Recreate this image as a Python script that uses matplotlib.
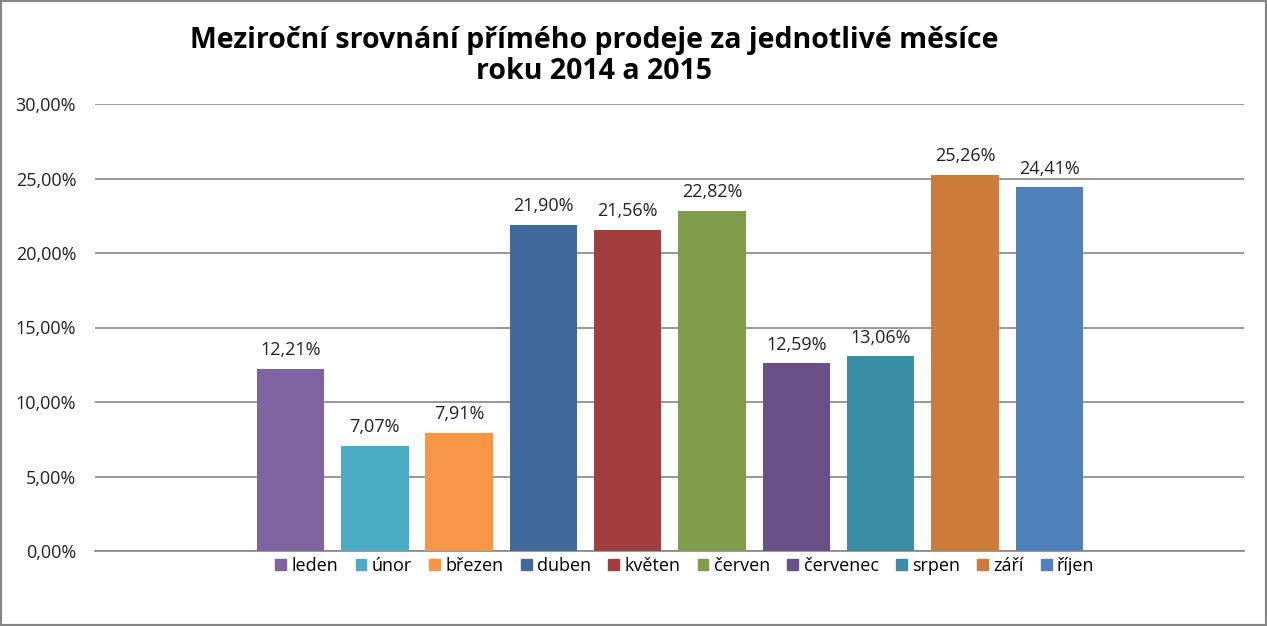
import matplotlib.pyplot as plt
from matplotlib.patches import Rectangle, Patch

mesice = ['leden', 'únor', 'březen', 'duben', 'květen', 'červen',
          'červenec', 'srpen', 'září', 'říjen']
hodnoty = [12.21, 7.07, 7.91, 21.90, 21.56, 22.82, 12.59, 13.06, 25.26, 24.41]
barvy = ['#8064A2', '#4BACC6', '#F79646', '#416A9B', '#A03F3D',
         '#7F9D4A', '#6A5088', '#3A8FA6', '#CC7B38', '#4F81BD']
y_ticks = [0, 5, 10, 15, 20, 25, 30]

plt.rcParams['font.family'] = ['Open Sans', 'DejaVu Sans']

fig = plt.figure(figsize=(12.67, 6.26), dpi=100)
ax = fig.add_axes([95/1267, 1 - 551/626, (1244 - 95)/1267, (551 - 104)/626])

for i in range(len(mesice)):
    ax.bar(i, hodnoty[i], width=0.8, color=barvy[i], label=mesice[i], zorder=3)
    txt = ('%.2f' % hodnoty[i]).replace('.', ',') + '%'
    ax.text(i, hodnoty[i] + 0.65, txt, ha='center', va='bottom', fontsize=13, color='#222222')

ax.set_xlim(-2.32, 11.31)
ax.set_ylim(0, 30)
ax.set_yticks(y_ticks)
ax.set_yticklabels([('%.2f' % v).replace('.', ',') + '%' for v in y_ticks], fontsize=13, color='#222222')
ax.set_xticks([])
ax.tick_params(axis='y', length=0, pad=13.5)
ax.grid(axis='y', color='#868686', linewidth=1.2, zorder=0)
for s in ['top', 'right', 'left']:
    ax.spines[s].set_visible(False)
ax.spines['bottom'].set_color('#868686')
ax.spines['bottom'].set_linewidth(1.2)

handles = [Patch(color=barvy[i], label=mesice[i]) for i in range(len(mesice))]
fig.legend(handles=handles, loc='center', bbox_to_anchor=(685/1267, 1 - 566/626),
           ncol=10, frameon=False, fontsize=13, handlelength=0.6, handleheight=0.6,
           handletextpad=0.3, columnspacing=0.95)

fig.text(594/1267, 1 - 56/626, 'Meziroční srovnání přímého prodeje za jednotlivé měsíce\nroku 2014 a 2015',
         ha='center', va='center', fontsize=20.5, fontweight='bold', linespacing=1.08)

fig.patches.append(Rectangle((0, 0), 1, 1, transform=fig.transFigure, fill=False,
                             edgecolor='#868686', linewidth=3))

fig.savefig('out.png', dpi=100)
